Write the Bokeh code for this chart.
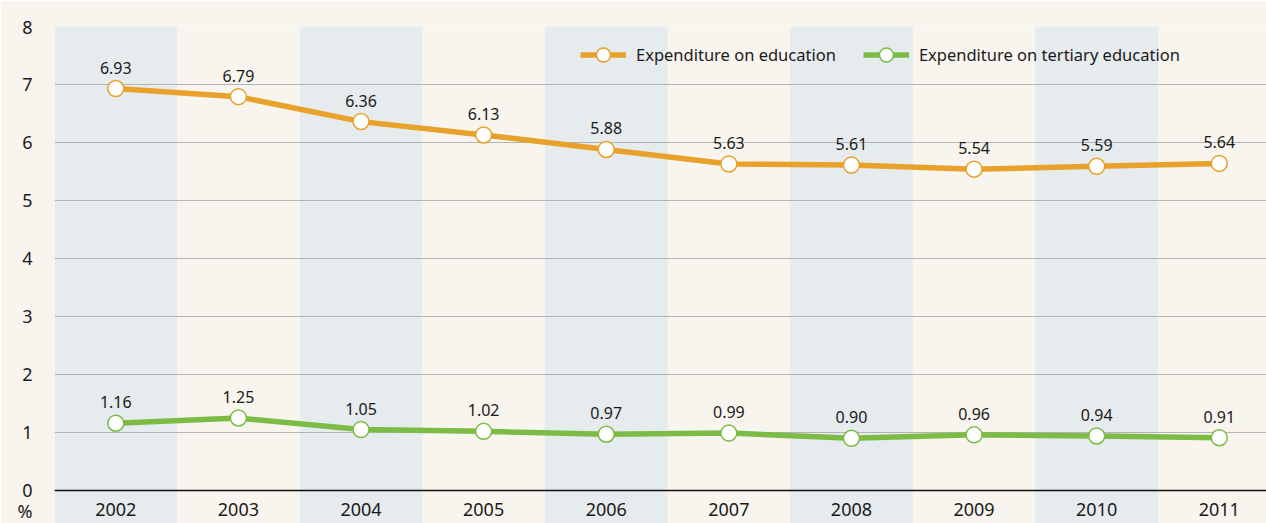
from bokeh.plotting import figure
from bokeh.models import Range1d, FixedTicker, Legend, LegendItem, ColumnDataSource
from bokeh.core.properties import value
from bokeh.embed import file_html
from bokeh.resources import INLINE

years = [2002, 2003, 2004, 2005, 2006, 2007, 2008, 2009, 2010, 2011]
education = [6.93, 6.79, 6.36, 6.13, 5.88, 5.63, 5.61, 5.54, 5.59, 5.64]
tertiary = [1.16, 1.25, 1.05, 1.02, 0.97, 0.99, 0.90, 0.96, 0.94, 0.91]
y_ticks = [0, 1, 2, 3, 4, 5, 6, 7, 8]
unit_label = "%"

FONT = "Noto Sans"
ORANGE = "#e8a12b"
GREEN = "#7dbb47"
BAND = "#e6ebee"
CREAM = "#f8f5ee"

Y_MIN = -0.569   # frame extends below 0 so bands reach the bottom edge
UNIT_POS = -0.35  # vertical slot of the unit label under "0"

p = figure(width=1266, height=523, output_backend="svg", toolbar_location=None,
           x_range=Range1d(years[0] - 0.5, years[-1] + 0.385), y_range=Range1d(Y_MIN, 8),
           min_border_left=54, min_border_right=0, min_border_top=26, min_border_bottom=0)
p.background_fill_color = CREAM
p.border_fill_color = CREAM
p.outline_line_color = None

# alternating bands
band_x = years[0::2]
p.vbar(x=band_x, width=1.0, top=8, bottom=Y_MIN, fill_color=BAND, line_color=None, level="image")

# grid
p.xgrid.grid_line_color = None
p.ygrid.ticker = FixedTicker(ticks=y_ticks)
p.ygrid.grid_line_color = "#b4b4b4"
p.ygrid.grid_line_width = 1

# x axis drawn at y = 0
p.xaxis.fixed_location = 0
p.xaxis.ticker = FixedTicker(ticks=years)
p.xaxis.major_label_overrides = {y: str(y) for y in years}
p.xaxis.axis_line_color = "#111111"
p.xaxis.axis_line_width = 1.5
p.xaxis.major_tick_line_color = None
p.xaxis.minor_tick_line_color = None
p.xaxis.major_label_text_font = FONT
p.xaxis.major_label_text_font_size = "18px"
p.xaxis.major_label_text_color = "#1a1a1a"
p.xaxis.major_label_standoff = 7

p.yaxis.ticker = FixedTicker(ticks=y_ticks + [UNIT_POS])
p.yaxis.major_label_overrides = {UNIT_POS: unit_label}
p.yaxis.axis_line_color = None
p.yaxis.major_tick_line_color = None
p.yaxis.minor_tick_line_color = None
p.yaxis.major_label_text_font = FONT
p.yaxis.major_label_text_font_size = "18px"
p.yaxis.major_label_text_color = "#1a1a1a"
p.yaxis.major_label_standoff = 16

src = ColumnDataSource(dict(x=years, edu=education, ter=tertiary,
                            edu_lbl=[f"{v:.2f}" for v in education],
                            ter_lbl=[f"{v:.2f}" for v in tertiary]))

l1 = p.line("x", "edu", source=src, line_color=ORANGE, line_width=5.5)
c1 = p.scatter("x", "edu", source=src, size=16, fill_color="white", line_color=ORANGE, line_width=1.5)
l2 = p.line("x", "ter", source=src, line_color=GREEN, line_width=5.5)
c2 = p.scatter("x", "ter", source=src, size=16, fill_color="white", line_color=GREEN, line_width=1.5)

for col, lbl in (("edu", "edu_lbl"), ("ter", "ter_lbl")):
    p.text("x", col, text=lbl, source=src, text_align="center", text_baseline="alphabetic",
           y_offset=-21, text_font=value(FONT), text_font_size="16px", text_color="#1a1a1a")

legend = Legend(items=[LegendItem(label="Expenditure on education", renderers=[l1, c1]),
                       LegendItem(label="Expenditure on tertiary education", renderers=[l2, c2])],
                orientation="horizontal",
                background_fill_alpha=0, border_line_color=None,
                label_text_font=FONT, label_text_font_size="16.5px", label_text_color="#1a1a1a",
                glyph_width=46, glyph_height=35, spacing=27, label_standoff=10,
                margin=0, padding=0)
legend.location = (526, 451)
p.add_layout(legend)

open("out.html", "w").write(file_html(p, INLINE))
